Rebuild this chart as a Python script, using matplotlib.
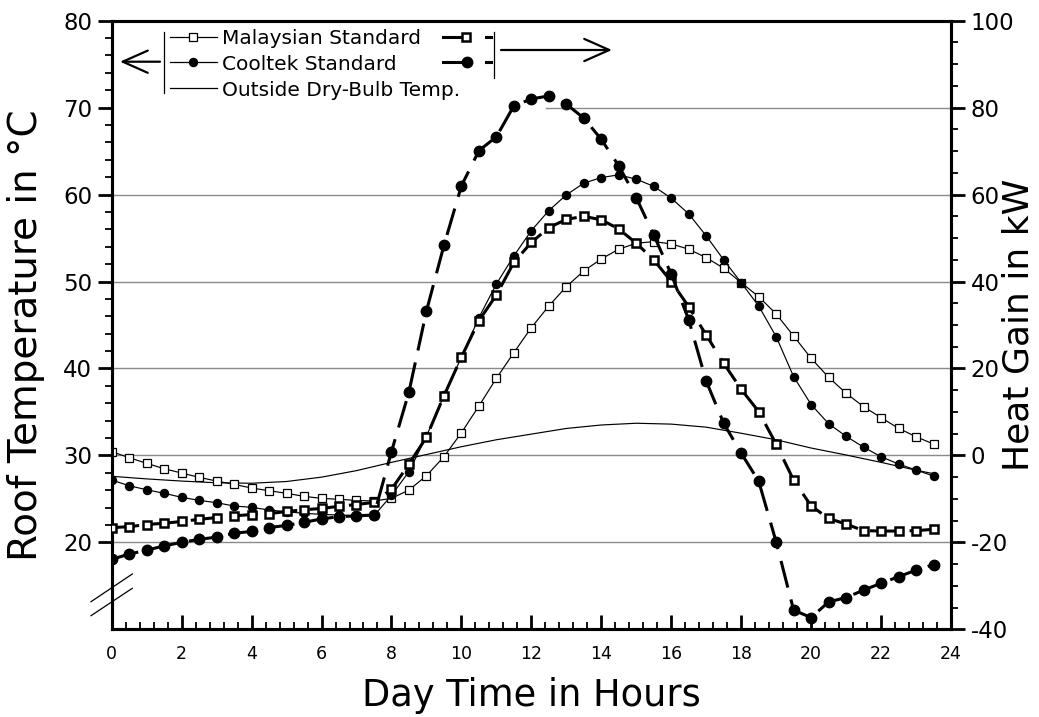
import numpy as np
import matplotlib
matplotlib.use("Agg")
import matplotlib.pyplot as plt
from matplotlib.lines import Line2D

plt.rcParams['font.family'] = ['DejaVu Sans']
plt.rcParams['axes.unicode_minus'] = False

# ---------------- data ----------------
hours = [0.0, 0.5, 1.0, 1.5, 2.0, 2.5, 3.0, 3.5, 4.0, 4.5, 5.0, 5.5,
         6.0, 6.5, 7.0, 7.5, 8.0, 8.5, 9.0, 9.5, 10.0, 10.5, 11.0, 11.5,
         12.0, 12.5, 13.0, 13.5, 14.0, 14.5, 15.0, 15.5, 16.0, 16.5, 17.0, 17.5,
         18.0, 18.5, 19.0, 19.5, 20.0, 20.5, 21.0, 21.5, 22.0, 22.5, 23.0, 23.5]

malaysian_roof = [30.43, 29.74, 29.09, 28.47, 27.97, 27.48, 27.05, 26.67, 26.25, 25.94, 25.64, 25.29,
                  25.06, 24.95, 24.83, 24.75, 25.06, 26.02, 27.66, 29.85, 32.61, 35.68, 38.87, 41.82,
                  44.70, 47.19, 49.41, 51.22, 52.60, 53.72, 54.40, 54.59, 54.33, 53.72, 52.75, 51.53,
                  49.87, 48.26, 46.27, 43.74, 41.17, 38.99, 37.15, 35.61, 34.34, 33.12, 32.15, 31.31]

cooltek_roof = [27.17, 26.51, 26.05, 25.64, 25.18, 24.83, 24.56, 24.18, 24.03, 23.72, 23.52, 23.34,
                23.22, 23.14, 23.06, 23.06, 25.40, 28.13, 32.20, 36.90, 41.30, 45.85, 49.72, 52.95,
                55.86, 58.16, 59.97, 61.31, 61.96, 62.27, 61.77, 60.95, 59.59, 57.78, 55.25, 52.49,
                49.87, 47.19, 43.66, 39.06, 35.85, 33.65, 32.20, 30.95, 29.85, 29.01, 28.32, 27.63]

out_hours = [0, 1, 2, 3, 4, 5, 6, 7, 8, 9, 10, 11, 12, 13, 14, 15, 16, 17, 18, 19, 20, 21, 22, 23, 23.5]
outside_temp = [27.6, 27.3, 27.05, 26.85, 26.8, 27.0, 27.5, 28.25, 29.2, 30.1, 31.0, 31.8, 32.45,
                33.1, 33.5, 33.7, 33.6, 33.25, 32.55, 31.8, 30.85, 30.05, 29.2, 28.3, 27.9]

malaysian_gain = [-16.6, -16.4, -15.9, -15.6, -15.2, -14.7, -14.3, -13.9, -13.6, -13.4, -12.9, -12.5,
                  -12.2, -11.7, -11.3, -10.8, -7.8, -2.0, 4.2, 13.7, 22.6, 31.0, 36.9, 44.4,
                  49.0, 52.4, 54.3, 55.0, 54.2, 52.1, 48.8, 45.0, 40.0, 34.2, 27.7, 21.2,
                  15.2, 10.1, 2.6, -5.7, -11.6, -14.5, -15.8, -17.3, -17.4, -17.4, -17.3, -17.0]

cooltek_gain = [-23.9, -22.7, -21.8, -20.8, -20.0, -19.3, -18.8, -17.9, -17.5, -16.6, -16.1, -15.4,
                -14.6, -14.1, -13.9, -13.7, 0.85, 14.6, 33.2, 48.3, 62.0, 70.1, 73.3, 80.4,
                82.0, 82.7, 80.8, 77.6, 72.7, 66.6, 59.3, 50.7, 41.7, 31.2, 17.1, 7.4,
                0.5, -5.9, -19.9, -35.6, -37.3, -33.7, -32.7, -31.0, -29.4, -27.9, -26.4, -25.1]

x_ticks = [0, 2, 4, 6, 8, 10, 12, 14, 16, 18, 20, 22, 24]
left_ticks = [20, 30, 40, 50, 60, 70, 80]
right_ticks = [-40, -20, 0, 20, 40, 60, 80, 100]
legend_labels = ["Malaysian Standard", "Cooltek Standard", "Outside Dry-Bulb Temp."]

# ---------------- figure ----------------
W, H = 1039, 717
fig = plt.figure(figsize=(W / 100, H / 100), dpi=100)
ax = fig.add_axes([111.7 / W, 1 - 629.3 / H, 839.3 / W, 608.6 / H])
ax2 = ax.twinx()

def F(x, y):
    return x / W, 1 - y / H

GRID = '#8a8a8a'
for g in [20, 30, 40, 50, 60]:
    ax.axhline(g, color=GRID, lw=1.0, zorder=0)
ax.axhline(70, xmin=0.518, xmax=1.0, color=GRID, lw=1.0, zorder=0)

thin = dict(color='black', lw=0.85)
ax.plot(out_hours, outside_temp, **thin, zorder=2)
ax.plot(hours, malaysian_roof, **thin, marker='s', ms=6.2, mfc='white', mec='black', mew=0.9, zorder=3)
ax.plot(hours, cooltek_roof, **thin, marker='o', ms=5.8, mfc='black', mec='black', zorder=3)

dash = dict(color='black', lw=2.2, dashes=(9, 4))
ax2.plot(hours, malaysian_gain, **dash, marker='s', ms=6.2, mfc='white', mec='black', mew=1.8, zorder=3)
ax2.plot(hours, cooltek_gain, **dash, marker='o', ms=7.5, mfc='black', mec='black', zorder=3)

ax.set_xlim(0, 24)
ax.set_ylim(10, 80)
ax2.set_ylim(-40, 100)

ax.set_xticks(x_ticks)
ax.set_xticks([v * 0.4 for v in range(0, 61)], minor=True)
ax.set_yticks(left_ticks)
ax.set_yticks([v for v in range(22, 80, 2) if v % 10 != 0], minor=True)
ax2.set_yticks(right_ticks)
ax2.set_yticks([v for v in range(-35, 100, 5) if v % 20 != 0], minor=True)

ax.tick_params(axis='x', which='major', direction='in', length=10, width=2, labelsize=12.5, pad=11, top=False)
ax.tick_params(axis='x', which='minor', direction='in', length=5, width=1.3, top=False)
ax.tick_params(axis='y', which='major', direction='out', length=10, width=2, labelsize=16.5, pad=4)
ax.tick_params(axis='y', which='minor', direction='out', length=5, width=1.3)
ax2.tick_params(axis='y', which='major', direction='out', length=10, width=2, labelsize=16.5, pad=4)
ax2.tick_params(axis='y', which='minor', direction='out', length=5, width=1.3)

for a in (ax, ax2):
    for s in a.spines.values():
        s.set_linewidth(2.2)

ax.set_xlabel("Day Time in Hours", fontsize=26.5)
ax.xaxis.set_label_coords(0.5, -0.109)
ax.xaxis.label.set_va('center')
ax.set_ylabel("Roof Temperature in °C", fontsize=28)
ax.yaxis.set_label_coords(-0.102, 0.484)
ax.yaxis.label.set_va('center')
ax2.set_ylabel("Heat Gain in kW", fontsize=26)
ax2.yaxis.set_label_coords(1.081, 0.5)
ax2.yaxis.label.set_va('center')

# axis break marks
for y0, y1 in [(601.7, 574.0), (615.7, 588.3)]:
    fig.add_artist(Line2D([91 / W, 132.3 / W], [1 - y0 / H, 1 - y1 / H],
                          transform=fig.transFigure, color='black', lw=0.9))

# ---------------- custom legend ----------------
def fl(xs, ys, **kw):
    fig.add_artist(Line2D([x / W for x in xs], [1 - y / H for y in ys],
                          transform=fig.transFigure, **kw))

rows = [36.7, 61.7, 88.3]
baselines = [44.0, 70.0, 96.5]
fl([170, 217], [rows[0]] * 2, color='black', lw=0.9)
fl([193], [rows[0]], marker='s', ms=6.2, mfc='white', mec='black', mew=0.9, lw=0)
fl([170, 217], [rows[1]] * 2, color='black', lw=0.9)
fl([193], [rows[1]], marker='o', ms=5.8, mfc='black', mec='black', lw=0)
fl([170, 217], [rows[2]] * 2, color='black', lw=0.9)
for lab, b in zip(legend_labels, baselines):
    fig.text(221.7 / W, 1 - b / H, lab, fontsize=14.5, va='baseline', ha='left')

fl([443, 465], [rows[0]] * 2, color='black', lw=2.2)
fl([466], [rows[0]], marker='s', ms=6.2, mfc='white', mec='black', mew=1.8, lw=0)
fl([486, 491], [rows[0]] * 2, color='black', lw=2.2)
fl([443, 465], [rows[1]] * 2, color='black', lw=2.2)
fl([466.7], [rows[1]], marker='o', ms=7.5, mfc='black', mec='black', lw=0)
fl([486, 491], [rows[1]] * 2, color='black', lw=2.2)

fl([164.3, 164.3], [31.7, 93.3], color='black', lw=0.9)
fl([494, 494], [31.7, 78.3], color='black', lw=0.9)

ax.annotate('', xy=F(120, 61.7), xytext=F(160, 61.7), xycoords='figure fraction',
            textcoords='figure fraction',
            arrowprops=dict(arrowstyle='->,head_length=0.9,head_width=0.4', lw=1.6,
                            color='black', shrinkA=0, shrinkB=0, mutation_scale=20))
ax.annotate('', xy=F(612, 50), xytext=F(501, 50), xycoords='figure fraction',
            textcoords='figure fraction',
            arrowprops=dict(arrowstyle='->,head_length=0.9,head_width=0.4', lw=1.6,
                            color='black', shrinkA=0, shrinkB=0, mutation_scale=20))

fig.savefig("out.png", dpi=100)
